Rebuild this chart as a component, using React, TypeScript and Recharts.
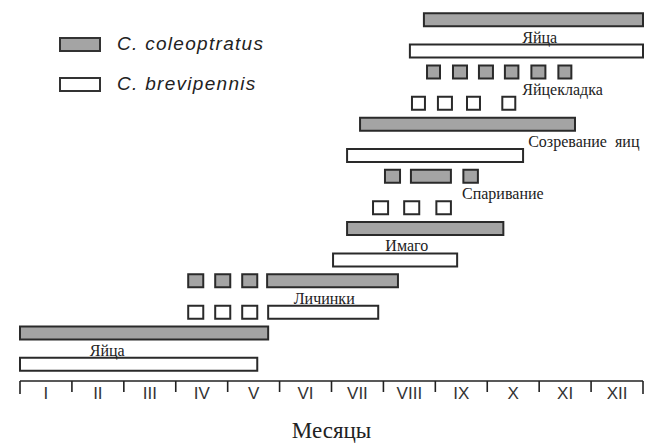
import React from "react";
import { BarChart, Bar, Cell, XAxis, YAxis, Legend, ReferenceDot } from "recharts";

// month labels on the time axis
const MONTHS = ["I", "II", "III", "IV", "V", "VI", "VII", "VIII", "IX", "X", "XI", "XII"];

const SPECIES = [
  { key: "coleoptratus", name: "C. coleoptratus", fill: "#a4a4a4" },
  { key: "brevipennis", name: "C. brevipennis", fill: "#ffffff" },
];

// life-cycle stages, top to bottom
const STAGES = ["Яйца", "Яйцекладка", "Созревание\u00a0 яиц", "Спаривание", "Имаго", "Личинки", "Яйца"];

// periods in months (0 = start of January, 12 = end of December), one list per stage
const COLEOPTRATUS_PERIODS = [
  [[7.78, 12]],
  [[7.84, 8.09], [8.34, 8.61], [8.84, 9.11], [9.34, 9.6], [9.85, 10.12], [10.37, 10.62]],
  [[6.55, 10.69]],
  [[7.03, 7.32], [7.53, 8.3], [8.54, 8.82]],
  [[6.3, 9.31]],
  [[3.24, 3.53], [3.76, 4.05], [4.28, 4.57], [4.76, 7.28]],
  [[0, 4.78]],
];

const BREVIPENNIS_PERIODS = [
  [[7.51, 12]],
  [[7.55, 7.8], [8.05, 8.32], [8.61, 8.86], [9.29, 9.54]],
  [[6.3, 9.69]],
  [[6.8, 7.09], [7.4, 7.69], [8.02, 8.3]],
  [[6.03, 8.42]],
  [[3.24, 3.53], [3.76, 4.05], [4.28, 4.57], [4.78, 6.9]],
  [[0, 4.57]],
];

// where each stage caption sits along the month axis
const CAPTION_AT = [10.01, 10.45, 10.86, 9.3, 7.45, 5.86, 1.68];

const SLOTS = ["s0", "s1", "s2", "s3", "s4", "s5"];
const ROW_STEP = 5; // y units per stage
const WHITE_OFFSET = 3; // brevipennis row sits 3 units under coleoptratus
const CAPTION_OFFSET = 1.65;

const toRow = (row: number, species: number, periods: number[][]) => {
  const r: any = { row, species };
  periods.forEach((p, i) => {
    r[SLOTS[i]] = p;
  });
  return r;
};

const rows = STAGES.flatMap((_, i) => [
  toRow(i * ROW_STEP, 0, COLEOPTRATUS_PERIODS[i]),
  toRow(i * ROW_STEP + WHITE_OFFSET, 1, BREVIPENNIS_PERIODS[i]),
]);

const axisTicks = Array.from({ length: 25 }, (_, i) => i / 2);

function MonthTick(props: any) {
  const { x, y, payload } = props;
  const v = payload.value;
  if (Number.isInteger(v)) {
    const len = v === 0 || v === 12 ? 13 : 11;
    return <line x1={x} y1={y} x2={x} y2={y + len} stroke="#222" strokeWidth={1.6} />;
  }
  return (
    <text
      x={x}
      y={y + 18}
      textAnchor="middle"
      fontFamily="'Liberation Sans', Arial, sans-serif"
      fontSize={17}
      fill="#333"
    >
      {MONTHS[Math.floor(v)]}
    </text>
  );
}

function SpeciesLegend() {
  return (
    <div style={{ display: "flex", flexDirection: "column", gap: 18 }}>
      {SPECIES.map((s) => (
        <div key={s.key} style={{ display: "flex", alignItems: "center", height: 22 }}>
          <div
            style={{
              width: 38,
              height: 11,
              background: s.fill,
              border: "2px solid #333",
              marginRight: 16,
            }}
          />
          <span
            style={{
              fontFamily: "'Liberation Sans', Arial, sans-serif",
              fontStyle: "italic",
              fontSize: 19,
              letterSpacing: 1.3,
              color: "#222",
            }}
          >
            {s.name}
          </span>
        </div>
      ))}
    </div>
  );
}

export default function App() {
  return (
    <div style={{ width: 647, height: 444, background: "#fff" }}>
      <style>{"body{margin:0;background:#fff}"}</style>
      <BarChart
        width={647}
        height={444}
        layout="vertical"
        data={rows}
        margin={{ top: 4, right: 4, left: 20, bottom: 33 }}
        barSize={13}
        barGap={-13}
      >
        <XAxis
          type="number"
          domain={[0, 12]}
          ticks={axisTicks}
          interval={0}
          tickLine={false}
          tickSize={0}
          tickMargin={0}
          tick={<MonthTick />}
          axisLine={{ stroke: "#222", strokeWidth: 1.6 }}
          height={30}
          label={{
            value: "Месяцы",
            position: "bottom",
            offset: 11,
            fontFamily: "'Liberation Serif', 'Times New Roman', serif",
            fontSize: 23,
            fill: "#222",
          }}
        />
        <YAxis type="number" dataKey="row" domain={[-1.5, 34.6]} hide />
        <Legend
          layout="vertical"
          align="center"
          verticalAlign="middle"
          content={() => <SpeciesLegend />}
          wrapperStyle={{ position: "absolute", left: 59, top: 33, width: "auto" }}
        />
        {SLOTS.map((slot) => (
          <Bar
            key={slot}
            dataKey={slot}
            stroke="#2a2a2a"
            strokeWidth={2}
            isAnimationActive={false}
            legendType="none"
          >
            {rows.map((r, i) => (
              <Cell key={i} fill={SPECIES[r.species].fill} />
            ))}
          </Bar>
        ))}
        {STAGES.map((name, i) => (
          <ReferenceDot
            key={i}
            x={CAPTION_AT[i]}
            y={i * ROW_STEP + CAPTION_OFFSET}
            r={0}
            fill="none"
            stroke="none"
            label={{
              value: name,
              position: "center",
              fontFamily: "'Liberation Serif', 'Times New Roman', serif",
              fontSize: 16,
              fill: "#222",
            }}
          />
        ))}
      </BarChart>
    </div>
  );
}
